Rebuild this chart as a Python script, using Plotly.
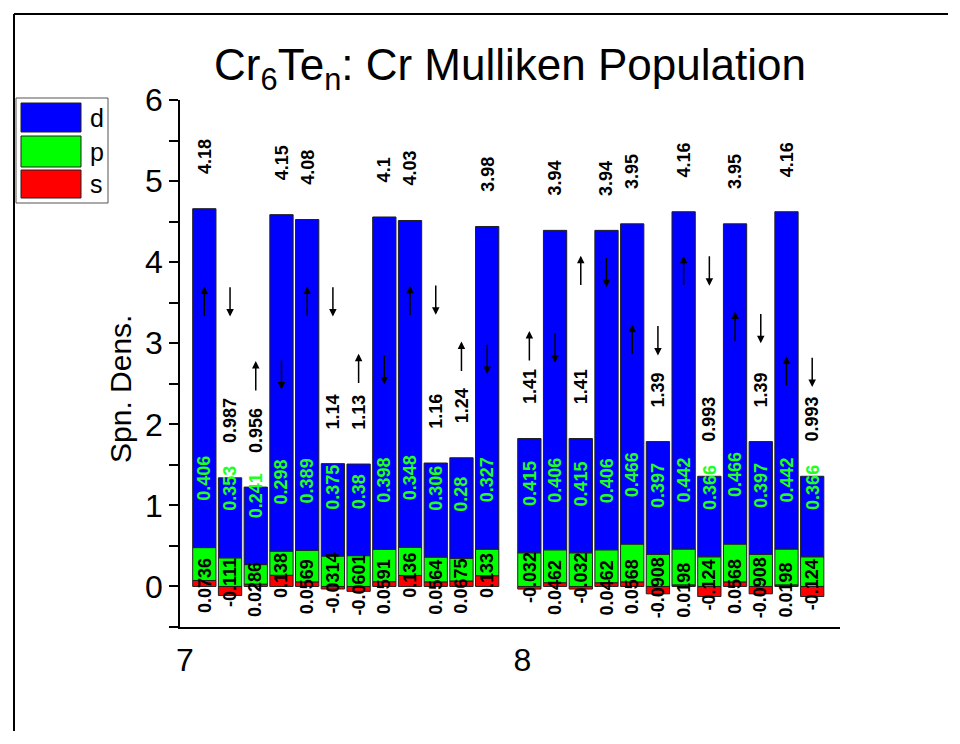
import plotly.graph_objects as go

# ---- data -------------------------------------------------------------
group = [7] * 12 + [8] * 12
slot = list(range(12)) + list(range(12))
spin = ["up", "down"] * 12

d_vals = [4.18, 0.987, 0.956, 4.15, 4.08, 1.14, 1.13, 4.1, 4.03, 1.16, 1.24, 3.98,
          1.41, 3.94, 1.41, 3.94, 3.95, 1.39, 4.16, 0.993, 3.95, 1.39, 4.16, 0.993]
p_vals = [0.406, 0.353, 0.241, 0.298, 0.389, 0.375, 0.38, 0.398, 0.348, 0.306, 0.28, 0.327,
          0.415, 0.406, 0.415, 0.406, 0.466, 0.397, 0.442, 0.366, 0.466, 0.397, 0.442, 0.366]
s_vals = [0.0736, -0.111, 0.0286, 0.138, 0.0569, -0.0314, -0.0601, 0.0591, 0.136, 0.0564, 0.0675, 0.133,
          -0.032, 0.0462, -0.032, 0.0462, 0.0568, -0.0908, 0.0198, -0.124, 0.0568, -0.0908, 0.0198, -0.124]
arrow_y = [3.51, 3.52, 2.59, 2.62, 3.51, 3.52, 2.68, 2.68, 3.52, 3.54, 2.83, 2.81,
           2.96, 2.95, 3.89, 3.88, 3.04, 3.04, 3.89, 3.90, 3.20, 3.19, 2.65, 2.65]
x_ticks = [7, 8]
x_ticklabels = ["7", "8"]

# ---- layout helpers ----------------------------------------------------
group_offset = {7: 0.0574, 8: 0.0206}
step = 0.0762
xs = [g + group_offset[g] + i * step for g, i in zip(group, slot)]
bar_w = 0.069

FONT = "Liberation Sans, Arial, sans-serif"
BLUE, GREEN, RED = "#0000ff", "#00ff00", "#ff0000"

fig = go.Figure()
for name, vals, col in [("s", s_vals, RED), ("p", p_vals, GREEN), ("d", d_vals, BLUE)]:
    fig.add_trace(go.Bar(x=xs, y=vals, name=name, width=bar_w,
                         marker=dict(color=col, line=dict(color="#202020", width=1)),
                         showlegend=False, hoverinfo="x+y+name"))

ann = []
lab_font = dict(family=FONT, size=18, color="black", weight="bold")
for x, s, p, d, sp, ay in zip(xs, s_vals, p_vals, d_vals, spin, arrow_y):
    p_top = max(s, 0) + p
    top = p_top + d
    ann.append(dict(x=x, y=top + 0.40, text=str(d), showarrow=False, textangle=-90,
                    xanchor="center", yanchor="bottom", font=lab_font))
    ann.append(dict(x=x, y=p_top + 0.55, text=str(p), showarrow=False, textangle=-90,
                    xanchor="center", yanchor="bottom",
                    font=dict(lab_font, color="#22ff22")))
    ann.append(dict(x=x, y=s + (0.30 if s >= 0 else 0.48), text=str(s), showarrow=False,
                    textangle=-90, xanchor="center", yanchor="top", font=lab_font))
    half = 0.19
    head, tail = (ay + half, ay - half) if sp == "up" else (ay - half, ay + half)
    ann.append(dict(x=x, y=head, ax=x, ay=tail, axref="x", ayref="y", text="",
                    showarrow=True, arrowhead=2, arrowsize=1.0, arrowwidth=1.5,
                    arrowcolor="black", standoff=0, startstandoff=0))

# paper coords: plot area spans 180..840 px and 100..627 px of the page
def px(xp):
    return (xp - 180) / 660.0

def py(yp):
    return (627 - yp) / 527.0

# y axis title
ann.append(dict(xref="paper", yref="paper", x=px(120), y=py(389), text="Spn. Dens.",
                showarrow=False, textangle=-90, xanchor="center", yanchor="middle",
                font=dict(family=FONT, size=30, color="black")))

# custom legend
shapes = [dict(type="rect", xref="paper", yref="paper", x0=px(16), x1=px(108),
               y0=py(203), y1=py(98), line=dict(color="#555555", width=1), fillcolor="white")]
for (lbl, col, y0, y1) in [("d", BLUE, 103, 132), ("p", GREEN, 136, 167), ("s", RED, 170, 198)]:
    shapes.append(dict(type="rect", xref="paper", yref="paper", x0=px(21), x1=px(81),
                       y0=py(y1), y1=py(y0), fillcolor=col, line=dict(color="#202020", width=1)))
    ann.append(dict(xref="paper", yref="paper", x=px(88), y=py((y0 + y1) / 2), text=lbl,
                    showarrow=False, xanchor="left", yanchor="middle",
                    font=dict(family=FONT, size=25, color="black")))
# page frame (top and left)
shapes.append(dict(type="line", xref="paper", yref="paper", x0=px(14), x1=px(948),
                   y0=py(14), y1=py(14), line=dict(color="black", width=2)))
shapes.append(dict(type="line", xref="paper", yref="paper", x0=px(14), x1=px(14),
                   y0=py(14), y1=py(731), line=dict(color="black", width=2)))

# the page body adds an 8 px margin, so the figure is 8 px smaller and shifted
fig.update_layout(
    width=952, height=736,
    barmode="relative",
    plot_bgcolor="white", paper_bgcolor="white",
    margin=dict(l=172, r=120, t=92, b=117),
    font=dict(family=FONT, color="black"),
    title=dict(text="Cr<sub>6</sub>Te<sub>n</sub>: Cr Mulliken Population",
               x=(510 - 8) / 952, xanchor="center", y=1 - (65 - 8) / 736, yanchor="middle",
               font=dict(family=FONT, size=44, color="black")),
    xaxis=dict(range=[7 - 5 / 340, 7 + 660 / 340], tickmode="array", tickvals=x_ticks,
               ticktext=x_ticklabels, ticks="", showgrid=False, zeroline=False,
               showline=True, linecolor="black", linewidth=2,
               tickfont=dict(family=FONT, size=32), ticklabelstandoff=4),
    yaxis=dict(range=[-0.5, 6], dtick=1, tick0=0, ticks="outside", ticklen=9, tickwidth=1.5,
               tickcolor="black", showgrid=False, zeroline=False, showline=True,
               linecolor="black", linewidth=1.5, tickfont=dict(family=FONT, size=32),
               minor=dict(dtick=0.5, ticks="outside", ticklen=9, tickwidth=1.5, tickcolor="black")),
    annotations=ann,
    shapes=shapes,
)

fig.write_html("out.html")
